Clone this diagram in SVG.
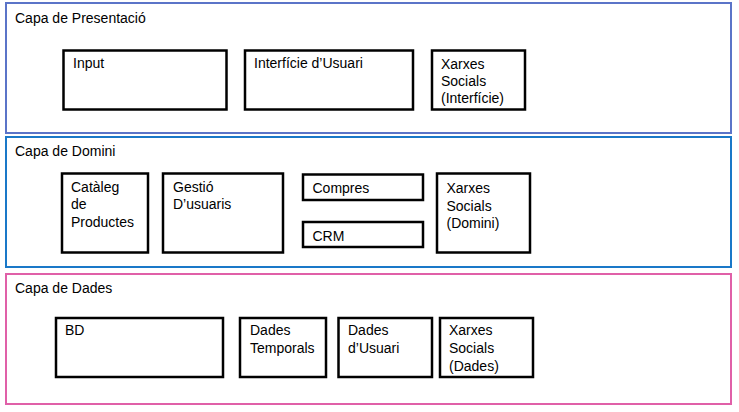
<svg xmlns="http://www.w3.org/2000/svg" width="739" height="412" viewBox="0 0 739 412">
<style>
text{font-family:"Liberation Sans",Arial,sans-serif;font-size:14px;fill:#000}
.layer{fill:#fff;stroke-width:2}
.box{fill:#fff;stroke:#000;stroke-width:2.5}
</style>
<rect width="739" height="412" fill="#fff"/>
<g id="layer-presentacio">
<rect class="layer" x="6" y="3" width="725" height="130" stroke="#5b74c8"/>
<text x="15" y="22.5">Capa de Presentació</text>
</g>
<g id="layer-domini">
<rect class="layer" x="6" y="137" width="725" height="130" stroke="#1a78c8"/>
<text x="15" y="156">Capa de Domini</text>
</g>
<g id="layer-dades">
<rect class="layer" x="6" y="274" width="725" height="130" stroke="#e060a8"/>
<text x="15" y="293">Capa de Dades</text>
</g>
<g id="input"><rect class="box" x="63.5" y="50.5" width="163" height="59"/><text x="73" y="67.5">Input</text></g>
<g id="interficie-usuari"><rect class="box" x="245" y="50.5" width="168" height="59"/><text x="254" y="68">Interfície d’Usuari</text></g>
<g id="xarxes-interficie"><rect class="box" x="432" y="50.5" width="93" height="59"/><text x="441" y="68.5">Xarxes</text><text x="441" y="86">Socials</text><text x="441" y="103">(Interfície)</text></g>
<g id="cataleg"><rect class="box" x="62" y="173.5" width="86" height="79"/><text x="71" y="191.5">Catàleg</text><text x="71" y="209">de</text><text x="71" y="227">Productes</text></g>
<g id="gestio-usuaris"><rect class="box" x="163" y="173.5" width="120" height="79"/><text x="173" y="191.5">Gestió</text><text x="173" y="209">D’usuaris</text></g>
<g id="compres"><rect class="box" x="303" y="174.5" width="120" height="25.5"/><text x="312.5" y="193">Compres</text></g>
<g id="crm"><rect class="box" x="303" y="222" width="120" height="25"/><text x="312.5" y="241">CRM</text></g>
<g id="xarxes-domini"><rect class="box" x="437" y="173.5" width="93" height="79"/><text x="446.5" y="193">Xarxes</text><text x="446.5" y="211">Socials</text><text x="446.5" y="228">(Domini)</text></g>
<g id="bd"><rect class="box" x="56" y="318" width="167" height="59"/><text x="65" y="335">BD</text></g>
<g id="dades-temporals"><rect class="box" x="240" y="318" width="86" height="59"/><text x="250" y="335">Dades</text><text x="250" y="353">Temporals</text></g>
<g id="dades-usuari"><rect class="box" x="338.5" y="318" width="93.5" height="59"/><text x="348" y="335">Dades</text><text x="348" y="353">d’Usuari</text></g>
<g id="xarxes-dades"><rect class="box" x="440" y="318" width="93" height="59"/><text x="449" y="335">Xarxes</text><text x="449" y="353">Socials</text><text x="449" y="370.5">(Dades)</text></g>
<g id="connectors"></g>
</svg>
